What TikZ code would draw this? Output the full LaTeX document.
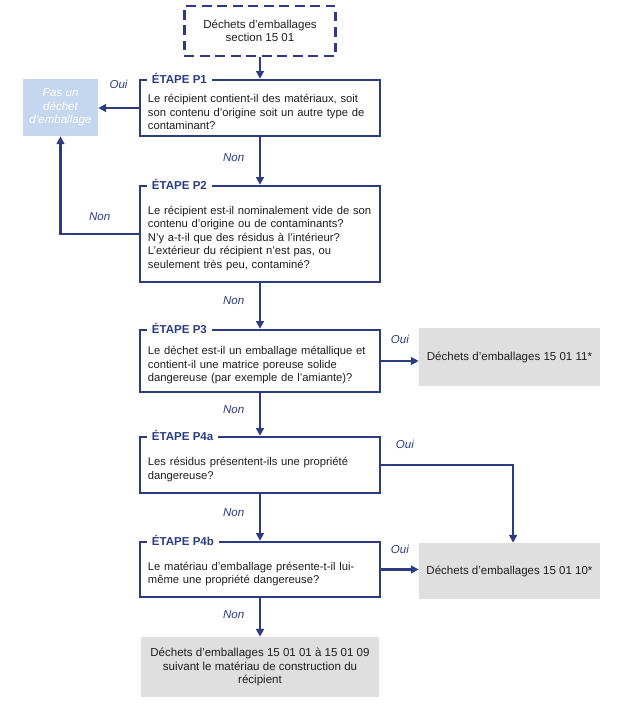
\documentclass[tikz,border=0pt]{standalone}
\usepackage{fontspec}
\setmainfont{Liberation Sans}
\usepackage{tikz}
\usetikzlibrary{positioning, arrows.meta}

\definecolor{navy}{RGB}{44,60,130}
\definecolor{boxgray}{RGB}{223,223,223}
\definecolor{paleblue}{RGB}{197,215,238}
\definecolor{bodytext}{RGB}{30,30,30}

\begin{document}
\begin{tikzpicture}[x=0.025cm, y=-0.025cm,
					>={Triangle[length=5.5pt, width=5.5pt]},
					flow/.style={->, navy, line width=1.6pt},
					question/.style={draw=navy, line width=1.7pt, text=bodytext,
						text width=5.6cm, inner xsep=0.2cm, minimum height=#1,
						align=left, font=\fontsize{8}{9.6}\selectfont,
						execute at begin node={\rule{0pt}{12pt}}},
					stage/.style={fill=white, text=navy, anchor=west,
						inner xsep=3.5pt, inner ysep=1pt,
						font=\fontsize{8.2}{9.6}\selectfont\bfseries},
					result/.style={fill=boxgray, text=bodytext, align=center,
						font=\fontsize{8.2}{9.6}\selectfont},
					lbl/.style={text=navy, font=\fontsize{8.2}{9.6}\selectfont\itshape}]

	\useasboundingbox (0,0) rectangle (642,706);

	\node[draw=navy, line width=1.7pt, dash pattern=on 7pt off 4pt,
		minimum width=3.775cm, minimum height=1.25cm, align=center,
		text=bodytext, font=\fontsize{8.2}{9.6}\selectfont]
		(start) at (260,31) {Déchets d’emballages\\section 15 01};
	\node[fill=paleblue, text=white, align=center,
		minimum width=1.875cm, minimum height=1.425cm,
		font=\fontsize{8.2}{9.6}\selectfont\itshape]
		(pas) at (60.5,107.5) {Pas un\\déchet\\d’emballage};

	\node[question=1.4cm] (p1) at (260,108)
		{Le récipient contient-il des matériaux, soit\\son contenu d’origine soit un autre type de\\contaminant?};
	\node[question=2.4cm] (p2) at (260,234)
		{Le récipient est-il nominalement vide de son\\contenu d’origine ou de contaminants?\\N’y a-t-il que des résidus à l’intérieur?\\L’extérieur du récipient n’est pas, ou\\seulement très peu, contaminé?};
	\node[question=1.55cm] (p3) at (260,361)
		{Le déchet est-il un emballage métallique et\\contient-il une matrice poreuse solide\\dangereuse (par exemple de l’amiante)?};
	\node[question=1.4cm] (p4a) at (260,465)
		{Les résidus présentent-ils une propriété\\dangereuse?};
	\node[question=1.375cm] (p4b) at (260,569.5)
		{Le matériau d’emballage présente-t-il lui-\\même une propriété dangereuse?};

	\node[stage] (t1) at ([xshift=0.2cm]p1.north west) {ÉTAPE P1};
	\node[stage] (t2) at ([xshift=0.2cm]p2.north west) {ÉTAPE P2};
	\node[stage] (t3) at ([xshift=0.2cm]p3.north west) {ÉTAPE P3};
	\node[stage] (t4a) at ([xshift=0.2cm]p4a.north west) {ÉTAPE P4a};
	\node[stage] (t4b) at ([xshift=0.2cm]p4b.north west) {ÉTAPE P4b};

	\node[result, minimum width=4.525cm, minimum height=1.45cm] (r3) at (509.5,357)
		{Déchets d’emballages 15 01 11*};
	\node[result, minimum width=4.525cm, minimum height=1.4cm] (r4) at (509.5,571)
		{Déchets d’emballages 15 01 10*};
	\node[result, minimum width=5.95cm, minimum height=1.5cm] (r5) at (260,667)
		{Déchets d’emballages 15 01 01 à 15 01 09\\suivant le matériau de construction du\\récipient};

	\draw[flow] (start) -- (p1);
	\draw[flow] (p1.west) -- node[lbl, above=0.34cm] (oui1) {Oui} (p1.west -| pas.east);
	\draw[flow] (p1) -- node[lbl, left=0.25cm, pos=0.42] (non1) {Non} (p2);
	\draw[flow] (p2.west) -| node[lbl, pos=0.25, above=0.19cm] (non2) {Non} (pas.south);
	\draw[flow] (p2) -- node[lbl, left=0.25cm, pos=0.38] (non3) {Non} (p3);
	\draw[flow] (p3.east) -- node[lbl, above=0.29cm] (oui3) {Oui} (p3.east -| r3.west);
	\draw[flow] (p3) -- node[lbl, left=0.25cm, pos=0.38] (non4) {Non} (p4a);
	\draw[flow] (p4a.east) -| node[lbl, pos=0.09, above=0.26cm] (oui4) {Oui} ([xshift=0.09cm]r4.north);
	\draw[flow] (p4a) -- node[lbl, left=0.25cm, pos=0.4] (non5) {Non} (p4b);
	\draw[flow] (p4b.east) -- node[lbl, above=0.26cm] (oui5) {Oui} (p4b.east -| r4.west);
	\draw[flow] (p4b) -- node[lbl, left=0.25cm, pos=0.42] (non6) {Non} (r5);
\end{tikzpicture}
\end{document}
